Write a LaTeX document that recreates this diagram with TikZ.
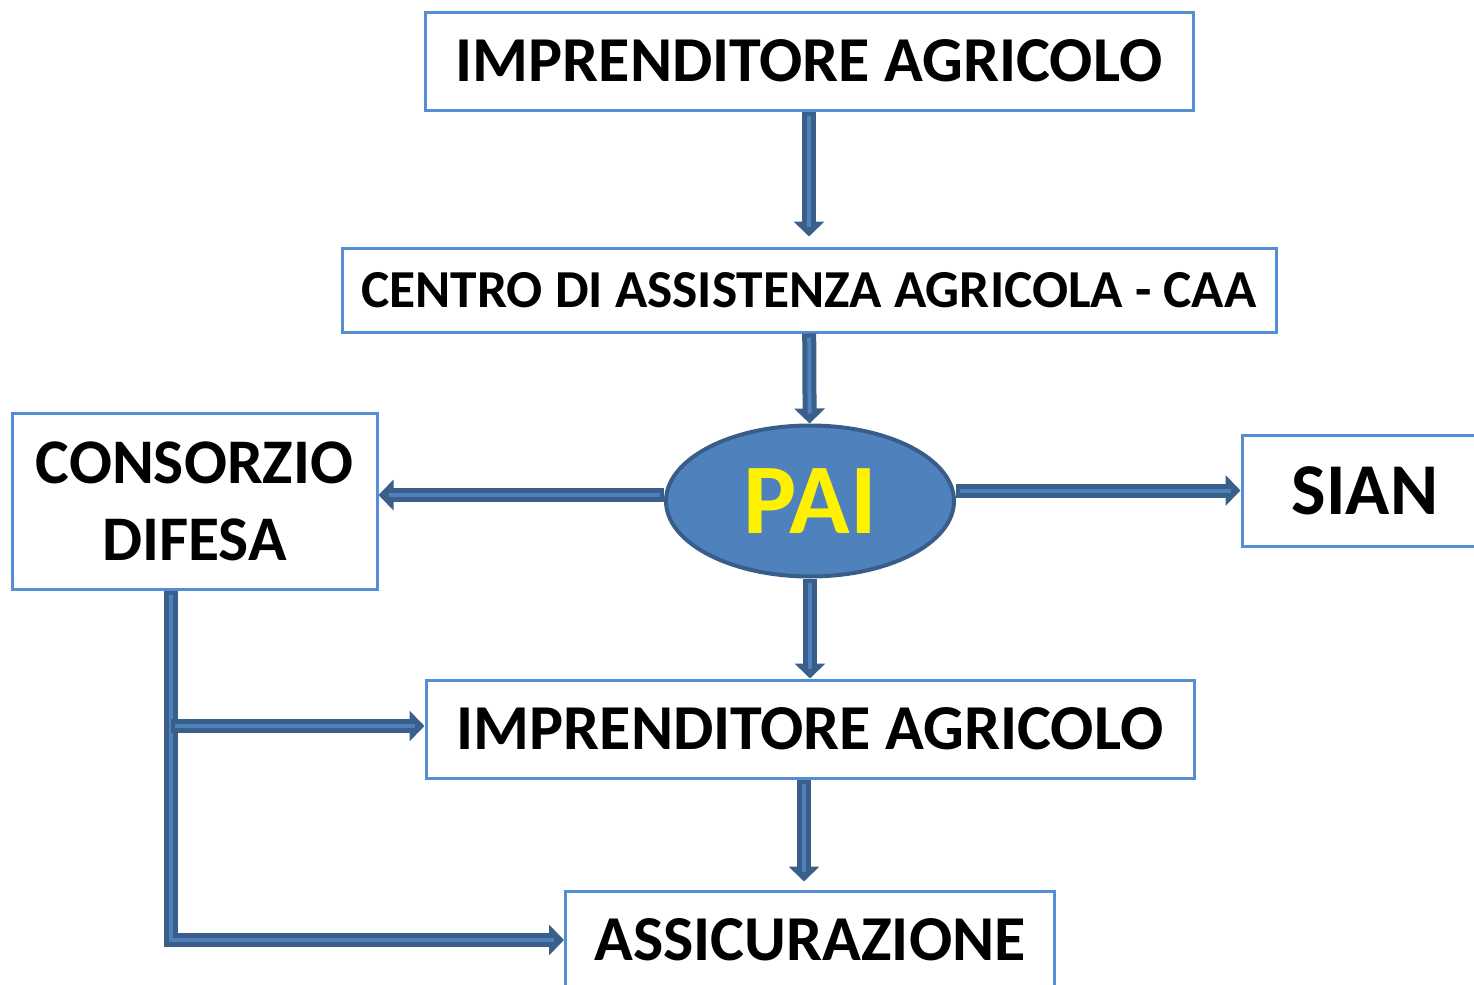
\documentclass[tikz,border=0pt]{standalone}
\usepackage{fontspec}
\setmainfont{Carlito}
\usetikzlibrary{shapes.geometric,arrows.meta,positioning}
\definecolor{boxline}{HTML}{558ED5}
\definecolor{arrdark}{HTML}{3A5F8B}
\definecolor{arrlight}{HTML}{4F81BD}
\definecolor{paifill}{HTML}{4F81BD}
\definecolor{paiedge}{HTML}{385D8A}

\begin{document}
\begin{tikzpicture}[%
    x=0.5pt, y=-0.5pt,                  % one unit = one pixel of the sketch, y going down
    >={Triangle[width=15pt,length=7.5pt]}, % fat block arrows
    ]
% -------------------------------------------------
% Box and connector styles
\tikzset{
  box/.style={draw=boxline, line width=1.5pt, fill=white, inner sep=0pt, align=center},
  wide/.style={box, minimum width=384pt, minimum height=49pt,
    font=\bfseries\fontsize{32}{38.5}\selectfont},
  pai/.style={ellipse, draw=paiedge, line width=2pt, fill=paifill, inner sep=0pt,
    minimum width=144pt, minimum height=75.5pt, text=yellow,
    font=\bfseries\fontsize{50}{58}\selectfont},
  % dark arrow with a lighter stripe inside
  flow/.style={->, draw=arrdark, line width=7pt, shorten >=#1,
    postaction={draw=arrlight, line width=2pt, -, shorten >=#1+5pt, shorten <=2pt}},
  flow/.default=0pt
}
\useasboundingbox (0,0) rectangle (1474,985);
% -------------------------------------------------
% Nodes
\node [wide] (imp) at (809,61) {IMPRENDITORE AGRICOLO};
\node [box, minimum width=467pt, minimum height=42pt,
       font=\bfseries\fontsize{26.7}{32}\selectfont] (caa) at (809,290)
       {CENTRO DI ASSISTENZA AGRICOLA - CAA};
\node [pai] (p) at (810,501) {PAI};
\node [box, minimum width=182.5pt, minimum height=88pt,
       font=\bfseries\fontsize{31.8}{38.5}\selectfont] (cons) at (194.5,501)
       {CONSORZIO\\DIFESA};
\node [box, minimum width=123pt, minimum height=55.5pt,
       font=\bfseries\fontsize{36.5}{42}\selectfont] (sian) at (1365,490.5) {SIAN};
\node [wide, below=50pt of p] (imp2) {IMPRENDITORE AGRICOLO};
\node [box, minimum width=244.5pt, minimum height=49pt,
       font=\bfseries\fontsize{32}{38}\selectfont] (assic) at (810,940) {ASSICURAZIONE};

% -------------------------------------------------
% Connectors
\draw [flow=5pt] (imp) -- (caa);
\draw [flow] (caa) -- (p);
\draw [flow] ([yshift=3pt]p.west) -- ([yshift=3pt]p.west -| cons.east);
\draw [flow] (p.east |- sian.west) -- (sian.west);
\draw [flow] (p) -- (imp2);
\draw [flow=4pt] ([xshift=-3pt]imp2.south) -- ([xshift=-3pt]imp2.south |- assic.north);
\draw [flow] ([xshift=-11.75pt]cons.south) |- (assic.west);
\draw [flow] ([xshift=-11.75pt,yshift=1.5pt]cons.south |- imp2.west) -- ([yshift=1.5pt]imp2.west);
\end{tikzpicture}
\end{document}
